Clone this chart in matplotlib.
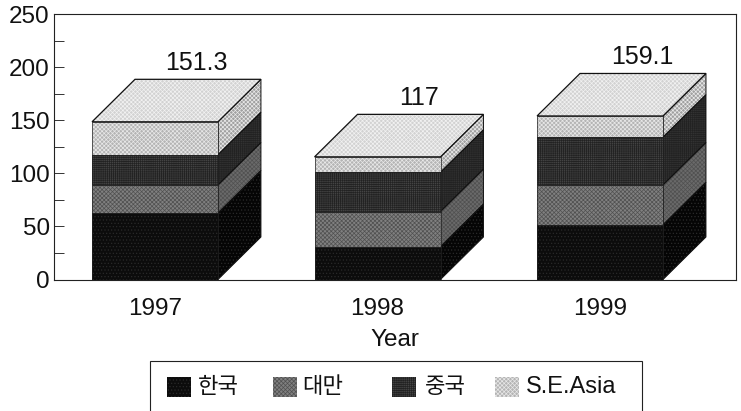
import matplotlib
matplotlib.use('Agg')
import matplotlib.pyplot as plt
from matplotlib.patches import Polygon, Rectangle

plt.rcParams['font.family'] = ['Liberation Sans', 'Noto Sans CJK KR']
plt.rcParams['hatch.linewidth'] = 0.5

years = ['1997', '1998', '1999']
totals = ['151.3', '117', '159.1']
names = ['한국', '대만', '중국', 'S.E.Asia']
korea = [62.6, 31, 51.5]
taiwan = [26.4, 33, 37.5]
china = [28.5, 37, 45]
asia = [31, 14.5, 20]
series = [korea, taiwan, china, asia]

front = ['#0c0c0c', '#808080', '#444444', '#b4b4b4']
side = ['#050505', '#6a6a6a', '#333333', '#a0a0a0']
top_col = '#d2d2d2'
hatches = ['.....', 'xxxxxxxx', '++++++++', 'xxxxxxxx']
hatch_col = ['#2a2a2a', '#505050', '#222222', '#e8e8e8']

W, H = 741, 411
width = 0.566
dx, dy = 0.193, 40

fig = plt.figure(figsize=(W / 100, H / 100), dpi=100)
ax = fig.add_axes([54 / W, 1 - 279.5 / H, (736 - 54) / W, 265.5 / H])


def shape(pts, fc, ec, hatch=None, hc=None, z=2, lw=0.7):
    ax.add_patch(Polygon(pts, closed=True, fc=fc, ec='none', zorder=z))
    if hatch:
        ax.add_patch(Polygon(pts, closed=True, fc='none', ec=hc, hatch=hatch, lw=0, zorder=z))
    ax.add_patch(Polygon(pts, closed=True, fc='none', ec=ec, lw=lw, zorder=z + 0.1))


for i in range(len(years)):
    x0 = i - width / 2
    x1 = i + width / 2
    base = 0
    for s, vals in enumerate(series):
        v = vals[i]
        shape([(x1, base), (x1 + dx, base + dy), (x1 + dx, base + v + dy), (x1, base + v)],
              side[s], '#111111', hatches[s], hatch_col[s], z=2)
        shape([(x0, base), (x1, base), (x1, base + v), (x0, base + v)],
              front[s], '#222222', hatches[s], hatch_col[s], z=3, lw=0.5)
        base += v
    shape([(x0, base), (x1, base), (x1 + dx, base + dy), (x0 + dx, base + dy)],
          top_col, '#111111', 'xxxxxxxx', '#f2f2f2', z=4, lw=0.9)
    ax.text(i + dx - 0.005, base + dy + 15.5, totals[i], ha='center', va='center', fontsize=18, color='#111111')

ax.set_xlim(-0.454, 2.611)
ax.set_ylim(0, 250)
ax.set_yticks([0, 50, 100, 150, 200, 250])
ax.set_yticks(range(25, 250, 50), minor=True)
ax.tick_params(axis='y', which='both', direction='in', length=7, width=0.7, color='#333333',
               labelsize=17.5, labelcolor='#111111', pad=3)
ax.set_xticks(range(3))
ax.set_xticklabels(years, fontsize=17.5, color='#111111')
ax.tick_params(axis='x', length=0, pad=13)
ax.set_xlabel('Year', fontsize=17.5, color='#111111', labelpad=7)
for sp in ax.spines.values():
    sp.set_linewidth(0.8)
    sp.set_color('#222222')

# legend box runs off the bottom of the picture
fig.add_artist(Rectangle((150 / W, -0.05), 492 / W, 1 - 361 / H + 0.05, transform=fig.transFigure,
                         fc='white', ec='#222222', lw=0.8))
handle_x = [167, 273, 392, 495]
text_x = [198, 302, 425, 526]
text_size = [16, 16, 16, 17]
for s, name in enumerate(names):
    fig.add_artist(Rectangle((handle_x[s] / W, 1 - 397 / H), 24 / W, 20 / H, transform=fig.transFigure,
                             fc=front[s], ec=hatch_col[s], hatch=hatches[s], lw=0))
    fig.text(text_x[s] / W, 1 - 387 / H, name, ha='left', va='center', fontsize=text_size[s], color='#111111')

fig.savefig('out.png', dpi=100)
